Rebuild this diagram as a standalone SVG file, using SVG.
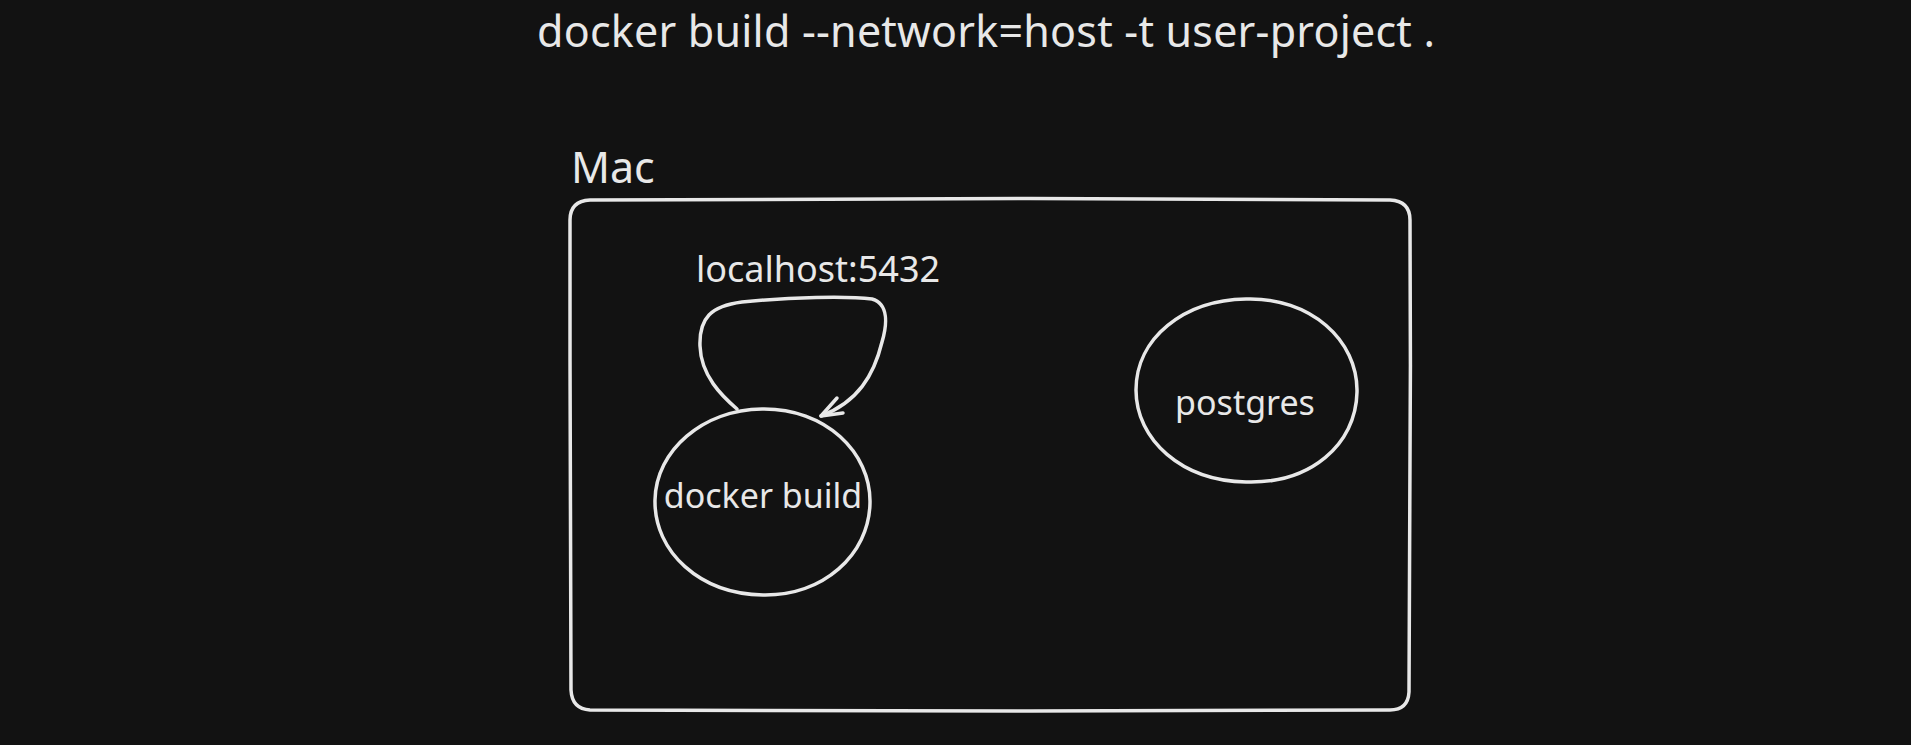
<svg xmlns="http://www.w3.org/2000/svg" width="1911" height="745" viewBox="0 0 1911 745">
<style>
.bg{fill:#121212}
.sk{fill:none;stroke:#e8e8e8;stroke-width:3.5;stroke-linecap:round;stroke-linejoin:round}
.t{font-family:"Noto Sans","Open Sans",sans-serif;fill:#e8e8e8}
</style>
<rect class="bg" x="0" y="0" width="1911" height="745"/>
<g id="title"><text class="t" x="537" y="47" font-size="43" textLength="898" lengthAdjust="spacing">docker build --network=host -t user-project .</text></g>
<g id="mac">
<text class="t" x="571" y="183" font-size="43">Mac</text>
<path class="sk" d="M590 200 C 800 198, 1150 198, 1390 200 Q 1410 201, 1410 220 C 1411 380, 1410 560, 1409 692 Q 1408 710, 1390 710 C 1150 711, 800 712, 590 710 Q 572 709, 571 690 C 570 560, 570 380, 570 220 Q 570 201, 590 200 Z"/>
</g>
<g id="docker-build">
<path class="sk" d="M762 409 C 825 408, 871 452, 870 503 C 869 555, 823 596, 763 595 C 700 594, 654 552, 655 500 C 656 450, 703 410, 762 409 Z"/>
<text class="t" x="763" y="508" font-size="34" text-anchor="middle">docker build</text>
</g>
<g id="postgres">
<path class="sk" d="M1246 299 C 1310 297, 1358 340, 1357 392 C 1356 445, 1310 484, 1246 482 C 1182 481, 1136 440, 1136 390 C 1136 338, 1184 300, 1246 299 Z"/>
<text class="t" x="1245" y="415" font-size="34" text-anchor="middle">postgres</text>
</g>
<g id="connectors">
<text class="t" x="696" y="282" font-size="36">localhost:5432</text>
<path class="sk" d="M737 409 C 722 396, 701 376, 700 346 C 699 318, 711 306, 742 302 C 790 297, 848 296, 872 299 C 889 304, 887 325, 882 342 C 874 375, 858 402, 821 416"/>
<path class="sk" d="M837 398 L 821 416 L 843 413"/>
</g>
</svg>
